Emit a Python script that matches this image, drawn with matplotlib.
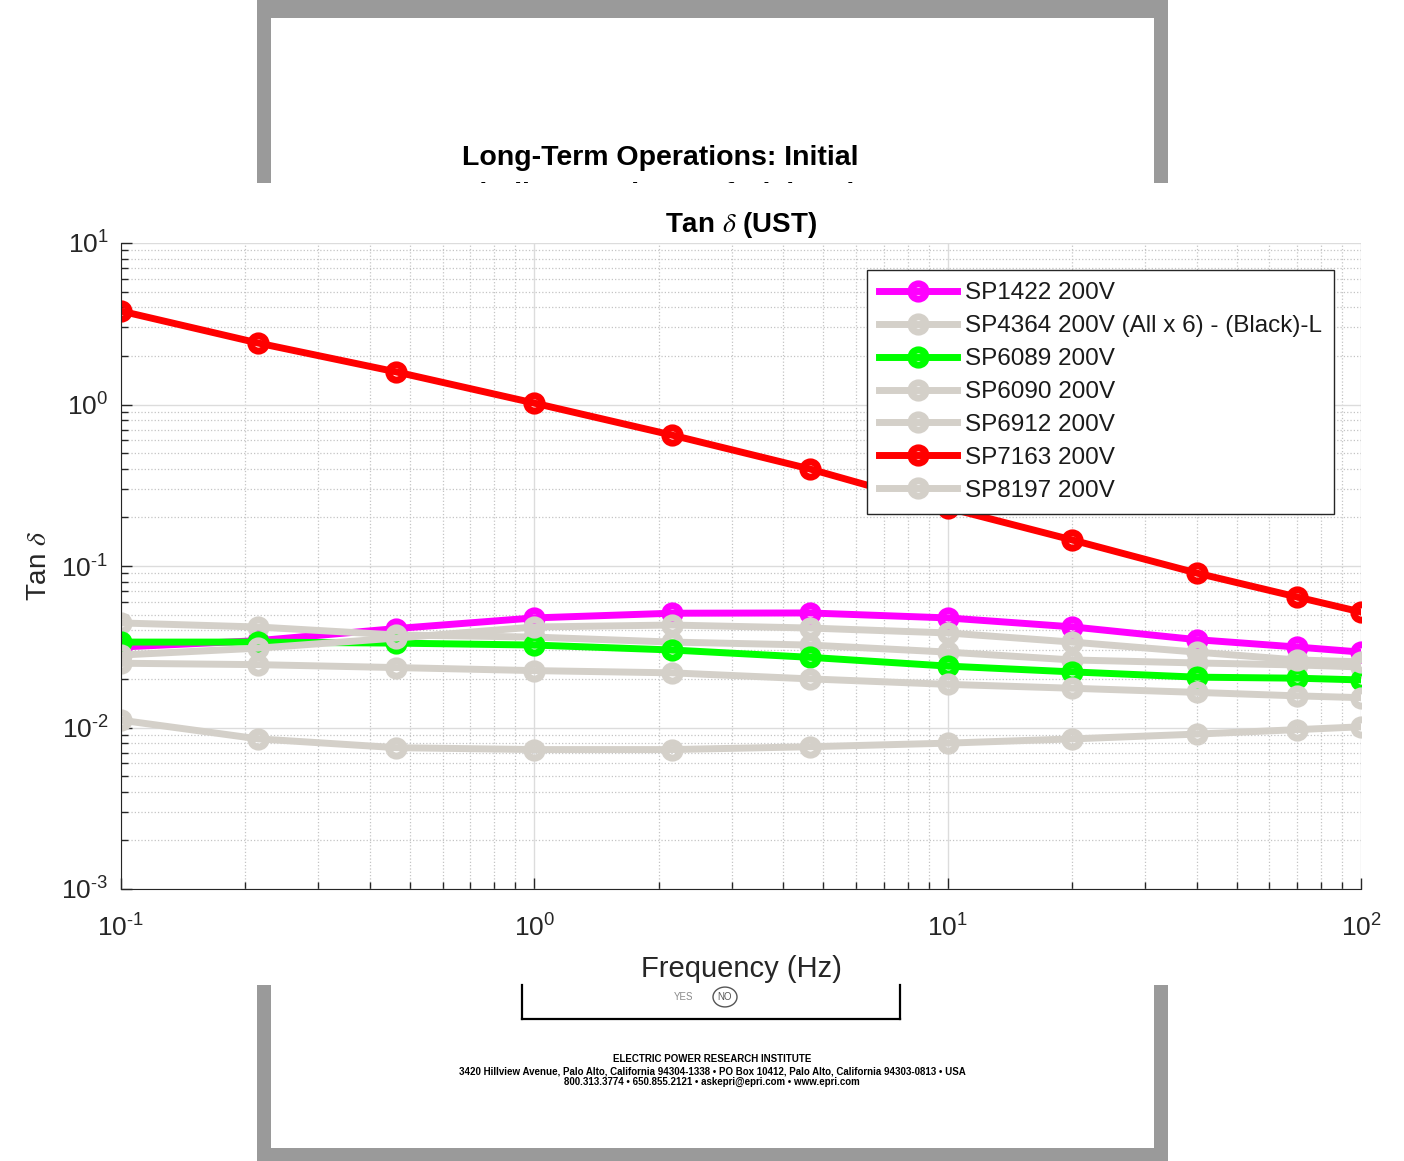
import matplotlib
matplotlib.use('Agg')
import matplotlib.pyplot as plt
from matplotlib.patches import Rectangle, Circle
from matplotlib.lines import Line2D
from matplotlib.ticker import NullFormatter, FixedLocator

# ==========================================
# 1. DATA
# ==========================================
freq = [0.1, 0.215, 0.464, 1.0, 2.15, 4.64, 10, 20, 40, 70, 100]

sp1422 = [0.0315, 0.0345, 0.041, 0.0477, 0.051, 0.0512, 0.0477, 0.042, 0.035, 0.0315, 0.0293]
sp4364 = [0.0444, 0.0419, 0.0374, 0.0363, 0.0338, 0.0324, 0.0293, 0.0262, 0.0251, 0.0244, 0.0237]
sp6089 = [0.0338, 0.0338, 0.0333, 0.0324, 0.0302, 0.0272, 0.0240, 0.0221, 0.0205, 0.0202, 0.0197]
sp6090 = [0.0281, 0.031, 0.0358, 0.0419, 0.0431, 0.0413, 0.0385, 0.0338, 0.0293, 0.0262, 0.0255]
sp6912 = [0.025, 0.0245, 0.0235, 0.0225, 0.0218, 0.020, 0.0185, 0.0175, 0.0165, 0.0157, 0.0153]
sp7163 = [3.79, 2.40, 1.59, 1.02, 0.647, 0.399, 0.229, 0.145, 0.0905, 0.0643, 0.0519]
sp8197 = [0.0111, 0.0085, 0.0075, 0.0073, 0.0073, 0.0076, 0.0080, 0.0085, 0.0091, 0.0097, 0.0101]

labels = ['SP1422 200V', 'SP4364 200V (All x 6) - (Black)-L', 'SP6089 200V',
          'SP6090 200V', 'SP6912 200V', 'SP7163 200V', 'SP8197 200V']
series = [sp1422, sp4364, sp6089, sp6090, sp6912, sp7163, sp8197]

xticks = [0.1, 1, 10, 100]
xticklabels = [r'$\mathregular{10^{\text{-}1}}$', r'$\mathregular{10^{0}}$',
               r'$\mathregular{10^{1}}$', r'$\mathregular{10^{2}}$']
yticks = [1e-3, 1e-2, 1e-1, 1, 10]
yticklabels = [r'$\mathregular{10^{\text{-}3}}$', r'$\mathregular{10^{\text{-}2}}$',
               r'$\mathregular{10^{\text{-}1}}$', r'$\mathregular{10^{0}}$', r'$\mathregular{10^{1}}$']

# ==========================================
# 2. STYLE
# ==========================================
magenta = '#ff00ff'
grey = '#d4d0c9'
green = '#00ff00'
red = '#ff0000'
colors = [magenta, grey, green, grey, grey, red, grey]
text_dark = '#262626'

plt.rcParams['font.family'] = ['Liberation Sans', 'DejaVu Sans']
plt.rcParams['mathtext.fontset'] = 'stix'

W, H = 1404, 1161
fig = plt.figure(figsize=(W / 100, H / 100), dpi=100, facecolor='white')


def fx(x):
    return x / W


def fy(y):
    return 1 - y / H


# ==========================================
# 3. DOCUMENT PAGE BEHIND THE CHART
# ==========================================
fig.patches.append(Rectangle((fx(257), fy(1161)), fx(1168) - fx(257), 1,
                             transform=fig.transFigure, fc='#9a9a9a', ec='none', zorder=-5))
fig.patches.append(Rectangle((fx(271), fy(1148)), fx(1154) - fx(271), (1148 - 18) / H,
                             transform=fig.transFigure, fc='white', ec='none', zorder=-4))

fig.text(fx(462), fy(158), 'Long-Term Operations: Initial', fontsize=20.5, fontweight='bold',
         color='black', ha='left', va='center', zorder=-3)
fig.text(fx(462), fy(195), 'Findings and Use of Dielectric', fontsize=20.5, fontweight='bold',
         color='black', ha='left', va='center', zorder=-3)

# white band that holds the chart
fig.patches.append(Rectangle((0, fy(985)), 1, (985 - 183) / H,
                             transform=fig.transFigure, fc='white', ec='none', zorder=-2))

# small form box under the chart
for xs, ys in [([522, 522], [985, 1019]), ([900, 900], [985, 1019]), ([522, 900], [1019, 1019])]:
    fig.lines.append(Line2D([fx(v) for v in xs], [fy(v) for v in ys], transform=fig.transFigure,
                            color='black', linewidth=1.6, zorder=-1))
fig.text(fx(684), fy(997), 'YES', fontsize=7, color='#8a8a8a', ha='center', va='center', zorder=-1)
fig.text(fx(725), fy(997), 'NO', fontsize=7, color='#555555', ha='center', va='center', zorder=-1)
fig.patches.append(Circle((fx(725), fy(997)), 12 / W, transform=fig.transFigure,
                          fc='none', ec='#555555', lw=1, zorder=-1))

# footer
fig.text(fx(712), fy(1059), 'ELECTRIC POWER RESEARCH INSTITUTE', fontsize=7, fontweight='bold',
         ha='center', va='center', zorder=-1)
fig.text(fx(712), fy(1071), '3420 Hillview Avenue, Palo Alto, California 94304-1338 \u2022 PO Box 10412, '
         'Palo Alto, California 94303-0813 \u2022 USA', fontsize=7, fontweight='bold',
         ha='center', va='center', zorder=-1)
fig.text(fx(712), fy(1082), '800.313.3774 \u2022 650.855.2121 \u2022 askepri@epri.com \u2022 www.epri.com',
         fontsize=7, fontweight='bold', ha='center', va='center', zorder=-1)

# ==========================================
# 4. THE CHART
# ==========================================
ax = fig.add_axes([fx(121), fy(889), fx(1361) - fx(121), fy(243) - fy(889)], zorder=1)
ax.set_facecolor('white')

for vals, col, lab in zip(series, colors, labels):
    ax.plot(freq, vals, color=col, linewidth=5, marker='o', markersize=11,
            markeredgewidth=5, markerfacecolor='none', label=lab)

ax.set_xscale('log')
ax.set_yscale('log')
ax.set_xlim(0.1, 100)
ax.set_ylim(1e-3, 10)

ax.xaxis.set_major_locator(FixedLocator(xticks))
ax.set_xticklabels(xticklabels)
ax.yaxis.set_major_locator(FixedLocator(yticks))
ax.set_yticklabels(yticklabels)
ax.xaxis.set_minor_formatter(NullFormatter())
ax.yaxis.set_minor_formatter(NullFormatter())

ax.grid(True, which='major', color='#dcdcdc', linewidth=1.0, linestyle='-')
ax.grid(True, which='minor', color='#c4c4c4', linewidth=0.9, linestyle=':')
ax.set_axisbelow(True)

ax.spines['top'].set_visible(False)
ax.spines['right'].set_visible(False)
ax.spines['left'].set_color(text_dark)
ax.spines['bottom'].set_color(text_dark)
ax.tick_params(which='major', direction='in', length=8, width=1, colors=text_dark, labelsize=19)
ax.tick_params(axis='x', which='major', pad=18)
ax.tick_params(axis='y', which='major', pad=9)
ax.tick_params(which='minor', direction='in', length=5, width=1, colors=text_dark)

ax.set_title(r'Tan $\delta$ (UST)', fontsize=20, fontweight='bold', color='black', pad=8)
ax.set_xlabel('Frequency (Hz)', fontsize=21, color=text_dark, labelpad=10)
ax.set_ylabel(r'Tan $\delta$', fontsize=20, color=text_dark, labelpad=7)

leg = ax.legend(loc='upper right', bbox_to_anchor=(fx(1334), fy(270)), bbox_transform=fig.transFigure,
                borderaxespad=0, fontsize=17.5, frameon=True, fancybox=False, edgecolor=text_dark,
                framealpha=1, numpoints=1, handlelength=3.2, handletextpad=0.33,
                labelspacing=0.45, borderpad=0.5)
leg.get_frame().set_linewidth(1.0)
for t in leg.get_texts():
    t.set_color('#1a1a1a')

plt.savefig('out.png', dpi=100, facecolor='white')
